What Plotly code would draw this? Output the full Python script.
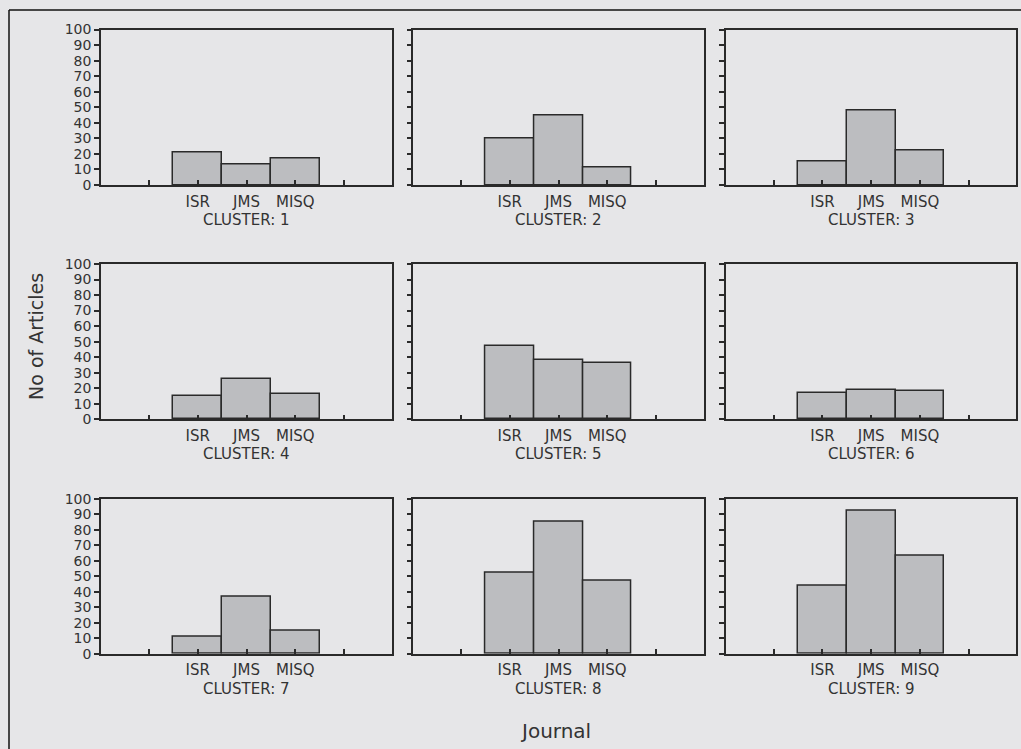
import plotly.graph_objects as go
from plotly.subplots import make_subplots

W, H = 1021, 749

journals = ["ISR", "JMS", "MISQ"]
clusters = ["CLUSTER: 1", "CLUSTER: 2", "CLUSTER: 3",
            "CLUSTER: 4", "CLUSTER: 5", "CLUSTER: 6",
            "CLUSTER: 7", "CLUSTER: 8", "CLUSTER: 9"]
cluster1 = [21, 13, 17]
cluster2 = [30, 45, 11]
cluster3 = [15, 48, 22]
cluster4 = [15, 26, 16]
cluster5 = [47, 38, 36]
cluster6 = [17, 19, 18]
cluster7 = [11, 37, 15]
cluster8 = [52, 85, 47]
cluster9 = [44, 92, 63]
values = [cluster1, cluster2, cluster3, cluster4, cluster5,
          cluster6, cluster7, cluster8, cluster9]
y_ticks = list(range(0, 101, 10))
x_ticks = [-1, 0, 1, 2, 3]
x_ticktext = ["", "ISR", "JMS", "MISQ", ""]

BG = "#e6e6e8"
BAR = "#bcbdc0"
LINE = "#2a2a2a"
TXT = "#333333"
FONT = "DejaVu Sans"

# pixel layout of panels
cols_px = [(101, 392), (413.3, 703.7), (726, 1016.3)]
rows_px = [(29.5, 185), (264, 419.3), (498.7, 653.7)]

fig = make_subplots(rows=3, cols=3)

for i, vals in enumerate(values):
    r, c = divmod(i, 3)
    fig.add_trace(go.Bar(
        x=list(range(len(journals))), y=vals, width=1,
        marker=dict(color=BAR, line=dict(color=LINE, width=1.5)),
        showlegend=False, hoverinfo="x+y"), row=r + 1, col=c + 1)

annotations = []
for i in range(9):
    r, c = divmod(i, 3)
    x0, x1 = cols_px[c]
    y0, y1 = rows_px[r]
    n = "" if i == 0 else str(i + 1)
    fig.layout["xaxis" + n].update(
        domain=[x0 / W, x1 / W], range=[-1.98, 3.98],
        tickmode="array", tickvals=x_ticks, ticktext=x_ticktext,
        ticks="inside", ticklen=5, tickwidth=1.5, tickcolor=LINE,
        showline=True, linecolor=LINE, linewidth=1.5, mirror=True,
        showgrid=False, zeroline=False, automargin=False,
        tickfont=dict(family=FONT, size=15, color=TXT),
        ticklabelstandoff=2, fixedrange=True)
    fig.layout["yaxis" + n].update(
        domain=[1 - y1 / H, 1 - y0 / H], range=[0, 100],
        tickmode="array", tickvals=y_ticks,
        ticks="outside", ticklen=5, tickwidth=1.5, tickcolor=LINE,
        showline=True, linecolor=LINE, linewidth=1.5, mirror=True,
        showgrid=False, zeroline=False, showticklabels=(c == 0),
        automargin=False,
        tickfont=dict(family=FONT, size=14, color=TXT), fixedrange=True)
    annotations.append(dict(
        text=clusters[i], x=(x0 + x1) / 2 / W, y=1 - (y1 + 35) / H,
        xref="paper", yref="paper", showarrow=False,
        xanchor="center", yanchor="middle",
        font=dict(family=FONT, size=15, color=TXT)))

annotations.append(dict(text="Journal", x=555 / W, y=1 - 731 / H,
                        xref="paper", yref="paper", showarrow=False,
                        xanchor="center", yanchor="middle",
                        font=dict(family=FONT, size=20, color=TXT)))
annotations.append(dict(text="No of Articles", x=36 / W, y=1 - 337 / H,
                        xref="paper", yref="paper", showarrow=False,
                        textangle=-90, xanchor="center", yanchor="middle",
                        font=dict(family=FONT, size=19, color=TXT)))

shapes = [
    dict(type="line", xref="paper", yref="paper", x0=9 / W, x1=1.0,
         y0=1 - 10 / H, y1=1 - 10 / H, line=dict(color="#111111", width=1.5)),
    dict(type="line", xref="paper", yref="paper", x0=9 / W, x1=9 / W,
         y0=0.0, y1=1 - 10 / H, line=dict(color="#111111", width=1.5)),
]

fig.update_layout(
    width=W, height=H,
    margin=dict(l=0, r=0, t=0, b=0, pad=0, autoexpand=False),
    paper_bgcolor=BG, plot_bgcolor=BG, bargap=0, showlegend=False,
    annotations=annotations, shapes=shapes,
    font=dict(family=FONT, color=TXT))

fig.write_html(
    "out.html",
    config={"responsive": False, "displayModeBar": False},
    post_script="document.body.style.margin='0';"
                "document.body.style.overflow='hidden';"
                "document.documentElement.style.overflow='hidden';")
